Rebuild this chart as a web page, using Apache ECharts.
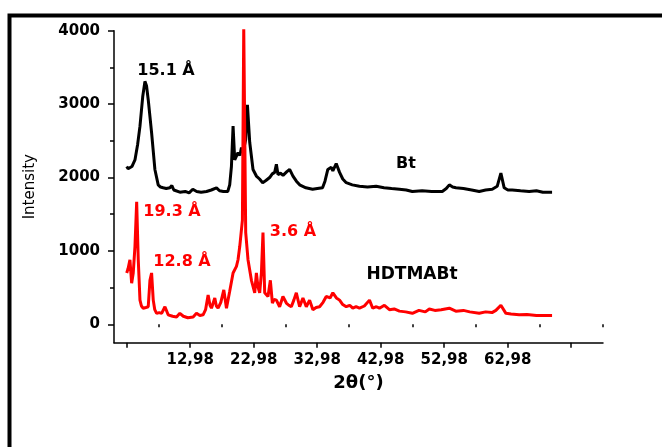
<!DOCTYPE html>
<html>
<head>
<meta charset="utf-8">
<script src="https://cdn.jsdelivr.net/npm/echarts@6/dist/echarts.min.js"></script>
<style>
  html, body { margin: 0; padding: 0; background: #fff; }
  #chart { width: 662px; height: 447px; }
</style>
</head>
<body>
<div id="chart"></div>
<script>
// [2theta (deg), intensity]
var btPoints = [
    [2.98,2150],[3.2,2120],[3.49,2110],[3.8,2150],[4.28,2240],[4.7,2450],[5.07,2700],[5.5,3100],[5.85,3310],[6.1,3250],
    [6.37,3060],[6.9,2610],[7.42,2110],[7.94,1900],[8.3,1870],[8.73,1860],[9.2,1850],[9.78,1860],[10.09,1890],[10.4,1830],
    [11.35,1800],[12.2,1810],[12.8,1790],[13.39,1840],[14.0,1810],[14.7,1800],[15.55,1810],[16.3,1830],[17.12,1860],[17.6,1820],
    [18.2,1810],[18.89,1810],[19.2,1900],[19.47,2150],[19.73,2700],[19.99,2240],[20.51,2340],[20.8,2300],[21.05,2410],[21.3,2340],
    [21.72,2520],[21.99,2990],[22.35,2480],[22.87,2110],[23.4,2020],[23.9,1980],[24.39,1930],[24.9,1960],[25.49,2000],[25.9,2050],
    [26.28,2070],[26.55,2180],[26.8,2040],[27.2,2060],[27.6,2030],[27.85,2040],[28.2,2080],[28.64,2110],[29.16,2020],[29.7,1950],
    [30.21,1900],[31.2,1860],[32.25,1840],[33.0,1850],[33.82,1860],[34.2,1950],[34.65,2110],[35.19,2140],[35.44,2090],[35.97,2190],
    [36.5,2070],[37.0,1980],[37.55,1930],[38.5,1900],[39.63,1880],[40.9,1870],[42.26,1880],[43.5,1860],[44.7,1850],[45.92,1840],
    [47.0,1830],[47.96,1810],[49.5,1820],[51.0,1810],[52.67,1810],[53.3,1850],[53.78,1900],[54.3,1870],[54.83,1860],[56.0,1850],
    [57.3,1830],[58.49,1810],[59.5,1830],[60.54,1840],[61.32,1880],[61.9,2060],[62.42,1860],[63.0,1830],[63.68,1830],[65.0,1820],
    [66.35,1810],[67.5,1820],[68.5,1800],[69.96,1800]
];
var hdtmaPoints = [
    [2.98,700],[3.2,760],[3.49,880],[3.76,560],[4.01,700],[4.28,1060],[4.55,1670],[4.8,880],[5.07,330],[5.3,250],
    [5.58,220],[6.0,230],[6.37,240],[6.64,600],[6.9,700],[7.16,330],[7.4,200],[7.69,150],[8.1,160],[8.48,150],
    [9.0,240],[9.51,130],[10.2,110],[10.83,100],[11.35,150],[11.9,110],[12.6,90],[13.44,100],[13.97,150],[14.5,120],
    [15.01,130],[15.4,200],[15.8,400],[16.1,260],[16.33,220],[16.85,360],[17.1,250],[17.37,220],[17.8,300],[18.27,470],
    [18.69,220],[19.2,450],[19.73,700],[20.26,790],[20.51,880],[20.78,1060],[21.2,1420],[21.41,4050],[21.72,1250],[22.08,880],
    [22.62,600],[23.14,430],[23.4,700],[23.65,510],[23.92,430],[24.19,700],[24.44,1250],[24.71,430],[25.23,380],[25.6,600],
    [25.92,290],[26.2,340],[26.55,330],[27.06,240],[27.58,380],[28.12,290],[28.5,260],[28.9,240],[29.3,330],[29.69,430],
    [30.21,240],[30.73,360],[31.26,240],[31.78,330],[32.3,200],[32.8,230],[33.35,240],[33.9,300],[34.4,380],[35.0,360],
    [35.44,430],[36.0,360],[36.5,330],[37.0,270],[37.55,240],[38.1,260],[38.58,220],[39.1,240],[39.63,220],[40.4,250],
    [41.21,330],[41.72,220],[42.3,240],[42.78,220],[43.56,260],[44.35,200],[45.1,210],[45.92,180],[46.9,170],[47.96,150],
    [49.0,190],[50.0,170],[50.63,210],[51.5,190],[52.5,200],[53.78,220],[54.8,180],[56.0,190],[57.0,170],[58.49,150],
    [59.5,170],[60.5,160],[61.11,190],[61.9,260],[62.69,150],[63.5,140],[64.78,130],[66.0,135],[67.5,120],[69.96,120]
];

var xMajor = [2.98,12.98,22.98,32.98,42.98,52.98,62.98,72.98];
var xMinor = [7.98,17.98,27.98,37.98,47.98,57.98,67.98,77.98];
var xLabels = [12.98,22.98,32.98,42.98,52.98,62.98];
var yMajor = [0,1000,2000,3000,4000];
var yMinor = [500,1500,2500,3500];

var lineStyle = {color:'#000', width:1.5};

var myChart = echarts.init(document.getElementById('chart'));
var option = {
    animation: false,
    backgroundColor: '#fff',
    grid: {left:114, right:59, top:30.7, bottom:104.3, containLabel:false},
    xAxis: [{
        type:'value', min:0.98, max:77.98,
        name:'2θ(°)', nameLocation:'middle', nameGap:32,
        nameTextStyle:{fontFamily:'DejaVu Sans', fontWeight:'bold', fontSize:18, color:'#000'},
        axisLine:{onZero:false, lineStyle:lineStyle},
        axisTick:{show:true, inside:false, length:5, customValues:xMajor, lineStyle:lineStyle},
        axisLabel:{margin:10, customValues:xLabels,
            formatter:function(v){return v.toFixed(2).replace('.', ',');},
            fontFamily:'DejaVu Sans', fontWeight:'bold', fontSize:15, color:'#000'},
        splitLine:{show:false}
    },{
        type:'value', min:0.98, max:77.98, position:'bottom',
        axisLine:{show:false},
        axisTick:{show:true, length:3, customValues:xMinor, lineStyle:lineStyle},
        axisLabel:{show:false}, splitLine:{show:false}
    }],
    yAxis: [{
        type:'value', min:-250, max:4000,
        name:'Intensity', nameLocation:'middle', nameGap:76, nameRotate:90,
        nameTextStyle:{fontFamily:'DejaVu Sans', fontSize:15, color:'#000'},
        axisLine:{show:true, onZero:false, lineStyle:lineStyle},
        axisTick:{show:true, length:6, customValues:yMajor, lineStyle:lineStyle},
        axisLabel:{margin:14, customValues:yMajor,
            formatter:function(v){return String(v);},
            fontFamily:'DejaVu Sans', fontWeight:'bold', fontSize:15, color:'#000'},
        splitLine:{show:false}
    },{
        type:'value', min:-250, max:4000, position:'left',
        axisLine:{show:false},
        axisTick:{show:true, length:4, customValues:yMinor, lineStyle:lineStyle},
        axisLabel:{show:false}, splitLine:{show:false}
    }],
    series: [{
        name:'Bt', type:'line', xAxisIndex:0, yAxisIndex:0,
        showSymbol:false,
        lineStyle:{color:'#000', width:3},
        data: btPoints
    },{
        name:'HDTMABt', type:'line', xAxisIndex:0, yAxisIndex:0,
        showSymbol:false,
        lineStyle:{color:'#ff0000', width:3},
        data: hdtmaPoints
    }],
    graphic: [
        {type:'rect', shape:{x:9.5, y:15.5, width:700, height:500}, style:{fill:'none', stroke:'#000', lineWidth:4}, silent:true},
        {type:'text', x:166, y:71, style:{text:'15.1 Å', fill:'#000', font:'bold 16px "DejaVu Sans"', textAlign:'center', textVerticalAlign:'middle'}},
        {type:'text', x:172, y:212, style:{text:'19.3 Å', fill:'#ff0000', font:'bold 16px "DejaVu Sans"', textAlign:'center', textVerticalAlign:'middle'}},
        {type:'text', x:182, y:262, style:{text:'12.8 Å', fill:'#ff0000', font:'bold 16px "DejaVu Sans"', textAlign:'center', textVerticalAlign:'middle'}},
        {type:'text', x:293, y:232, style:{text:'3.6 Å', fill:'#ff0000', font:'bold 16px "DejaVu Sans"', textAlign:'center', textVerticalAlign:'middle'}},
        {type:'text', x:406, y:164, style:{text:'Bt', fill:'#000', font:'bold 16px "DejaVu Sans"', textAlign:'center', textVerticalAlign:'middle'}},
        {type:'text', x:412, y:275, style:{text:'HDTMABt', fill:'#000', font:'bold 17px "DejaVu Sans"', textAlign:'center', textVerticalAlign:'middle'}}
    ]
};
myChart.setOption(option);
</script>
</body>
</html>
